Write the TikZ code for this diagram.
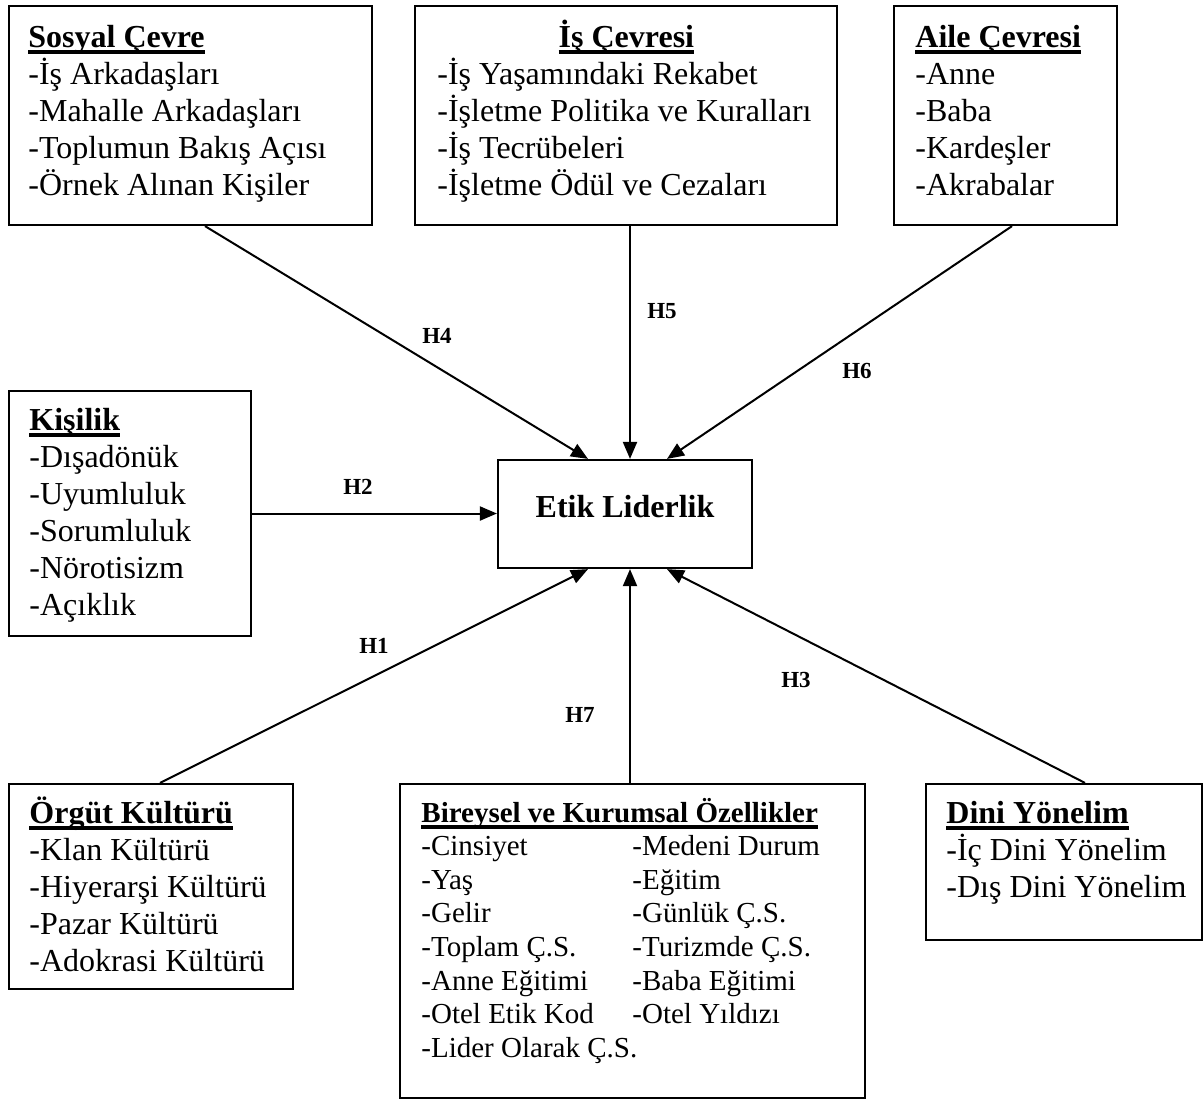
\documentclass[tikz,border=0pt]{standalone}
\usepackage{fontspec}
\setmainfont{Liberation Serif}
\usetikzlibrary{arrows.meta}

\newsavebox{\baslikkutu}
\newcommand{\baslik}[1]{\sbox{\baslikkutu}{\textbf{#1}}\rlap{\rule[-3.3pt]{\wd\baslikkutu}{1.6pt}}\usebox{\baslikkutu}}

\begin{document}
\begin{tikzpicture}[x=0.5pt,y=-0.5pt,
    kutu/.style={draw, line width=1.1pt, inner sep=0pt},
    liste/.style={anchor=base west, inner sep=0pt, align=flush left, text width=200pt,
      font=\fontsize{16}{18.5}\selectfont},
    oku/.style={line width=1pt, -{Triangle[length=8.5pt,width=7pt]}},
    etiket/.style={inner sep=0pt, font=\fontsize{11.5}{13}\selectfont\bfseries}]
  \useasboundingbox (0,0) rectangle (1203,1100);

  % kutular
  \node[kutu, minimum width=181.5pt, minimum height=109.5pt] (sosyal) at (190.5,115.5) {};
  \node[kutu, minimum width=211pt, minimum height=109.5pt] (is) at (626,115.5) {};
  \node[kutu, minimum width=111.5pt, minimum height=109.5pt] (aile) at (1005.5,115.5) {};
  \node[kutu, minimum width=121pt, minimum height=122.5pt] (kisilik) at (130,513.5) {};
  \node[kutu, minimum width=127pt, minimum height=54pt, text depth=8pt,
    font=\fontsize{16}{18.5}\selectfont\bfseries] (etik) at (625,514) {Etik Liderlik};
  \node[kutu, minimum width=142pt, minimum height=102.5pt] (orgut) at (151,886.5) {};
  \node[kutu, minimum width=232.5pt, minimum height=157pt] (bireysel) at (632.5,941) {};
  \node[kutu, minimum width=138pt, minimum height=78pt] (dini) at (1064,862) {};

  % metinler
  \node[liste] (sosyalmetin) at (28,47) {\baslik{Sosyal Çevre}\\-İş Arkadaşları\\-Mahalle Arkadaşları\\-Toplumun Bakış Açısı\\-Örnek Alınan Kişiler};
  \node[liste, text width=189pt] (ismetin) at (437,47) {\makebox[\linewidth]{\baslik{İş Çevresi}}\\-İş Yaşamındaki Rekabet\\-İşletme Politika ve Kuralları\\-İş Tecrübeleri\\-İşletme Ödül ve Cezaları};
  \node[liste] (ailemetin) at (915,47) {\baslik{Aile Çevresi}\\-Anne\\-Baba\\-Kardeşler\\-Akrabalar};
  \node[liste] (kisilikmetin) at (29,430) {\baslik{Kişilik}\\-Dışadönük\\-Uyumluluk\\-Sorumluluk\\-Nörotisizm\\-Açıklık};
  \node[liste] (orgutmetin) at (29,823) {\baslik{Örgüt Kültürü}\\-Klan Kültürü\\-Hiyerarşi Kültürü\\-Pazar Kültürü\\-Adokrasi Kültürü};
  \node[liste, text width=230pt, font=\fontsize{14.5}{16.8}\selectfont] (bireyselmetin) at (421,822) {\baslik{Bireysel ve Kurumsal Özellikler}\\
    \makebox[105.5pt][l]{-Cinsiyet}-Medeni Durum\\
    \makebox[105.5pt][l]{-Yaş}-Eğitim\\
    \makebox[105.5pt][l]{-Gelir}-Günlük Ç.S.\\
    \makebox[105.5pt][l]{-Toplam Ç.S.}-Turizmde Ç.S.\\
    \makebox[105.5pt][l]{-Anne Eğitimi}-Baba Eğitimi\\
    \makebox[105.5pt][l]{-Otel Etik Kod}-Otel Yıldızı\\
    -Lider Olarak Ç.S.};
  \node[liste] (dinimetin) at (946,823) {\baslik{Dini Yönelim}\\-İç Dini Yönelim\\-Dış Dini Yönelim};

  % oklar
  \draw[oku] ([xshift=7.25pt]sosyal.south) -- ([xshift=-18.5pt]etik.north);
  \draw[oku] ([xshift=2pt]is.south) -- ([xshift=2.5pt]etik.north);
  \draw[oku] ([xshift=3.25pt]aile.south) -- ([xshift=21pt]etik.north);
  \draw[oku] (kisilik.east) -- (kisilik.east -| etik.west);
  \draw[oku] ([xshift=4.5pt]orgut.north) -- ([xshift=-18.5pt]etik.south);
  \draw[oku] ([xshift=-1.25pt]bireysel.north) -- ([xshift=2.5pt]etik.south);
  \draw[oku] ([xshift=10.5pt]dini.north) -- ([xshift=21pt]etik.south);

  % hipotezler
  \node[etiket] (h1) at (374,646) {H1};
  \node[etiket] (h2) at (358,487) {H2};
  \node[etiket] (h3) at (796,680) {H3};
  \node[etiket] (h4) at (437,336) {H4};
  \node[etiket] (h5) at (662,311) {H5};
  \node[etiket] (h6) at (857,371) {H6};
  \node[etiket] (h7) at (580,715) {H7};
\end{tikzpicture}
\end{document}
